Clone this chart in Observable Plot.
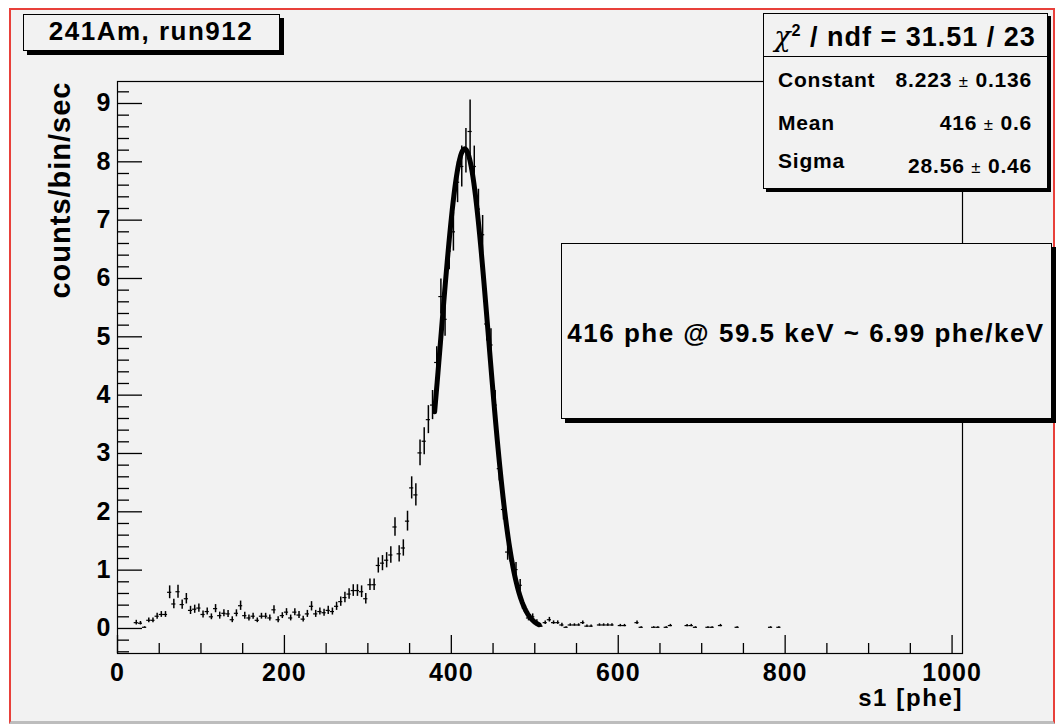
<!DOCTYPE html>
<html><head><meta charset="utf-8">
<script src="https://cdn.jsdelivr.net/npm/d3@7"></script>
<script src="https://cdn.jsdelivr.net/npm/@observablehq/plot@0.6"></script>
<style>
html,body{margin:0;padding:0;background:#fff;width:1057px;height:725px;overflow:hidden;font-family:"Liberation Sans",Arial,Helvetica,sans-serif;font-weight:bold;color:#000;}
#canvas{position:absolute;left:9px;top:8px;width:1042px;height:711px;border:2px solid #e8403a;border-bottom:3px solid #bdbdbd;background:#f2f2f2;}
#chart{position:absolute;left:0;top:0;}
.box{position:absolute;box-sizing:border-box;background:#f2f2f2;border:1px solid #000;box-shadow:4px 4px 0 #000;}
.t{position:absolute;white-space:nowrap;line-height:1;}
.pm{font-weight:normal;font-size:0.8em;}
</style></head><body>
<div id="canvas"></div>
<div id="chart"></div>
<script>
// ---- data ----
const binCenters = [22.5,27.5,32.5,37.5,42.5,47.5,52.5,57.5,62.5,67.5,72.5,77.5,82.5,87.5,92.5,97.5,102.5,107.5,112.5,117.5,122.5,127.5,132.5,137.5,142.5,147.5,152.5,157.5,162.5,167.5,172.5,177.5,182.5,187.5,192.5,197.5,202.5,207.5,212.5,217.5,222.5,227.5,232.5,237.5,242.5,247.5,252.5,257.5,262.5,267.5,272.5,277.5,282.5,287.5,292.5,297.5,302.5,307.5,312.5,317.5,322.5,327.5,332.5,337.5,342.5,347.5,352.5,357.5,362.5,367.5,372.5,377.5,382.5,387.5,392.5,397.5,402.5,407.5,412.5,417.5,422.5,427.5,432.5,437.5,442.5,447.5,452.5,457.5,462.5,467.5,472.5,477.5,482.5,487.5,492.5,497.5,502.5,507.5,512.5,517.5,522.5,527.5,532.5,537.5,542.5,547.5,552.5,557.5,562.5,567.5,577.5,582.5,587.5,592.5,602.5,607.5,622.5,627.5,642.5,647.5,657.5,662.5,682.5,687.5,692.5,707.5,712.5,722.5,742.5,782.5,792.5];
const rates = [0.10,0.09,0.02,0.14,0.14,0.21,0.24,0.24,0.62,0.42,0.63,0.41,0.51,0.31,0.33,0.35,0.24,0.29,0.20,0.34,0.22,0.26,0.25,0.15,0.26,0.39,0.22,0.18,0.21,0.14,0.21,0.21,0.18,0.32,0.15,0.22,0.28,0.18,0.28,0.23,0.16,0.25,0.38,0.25,0.29,0.27,0.31,0.29,0.38,0.46,0.53,0.59,0.65,0.65,0.63,0.51,0.75,0.75,1.08,1.12,1.17,1.26,1.74,1.28,1.38,1.84,2.41,2.29,3.01,3.21,3.58,3.83,4.56,5.69,5.30,6.47,6.80,7.65,7.92,8.19,8.52,7.92,7.19,6.75,5.22,4.86,3.83,2.74,2.04,1.31,1.16,1.01,0.74,0.35,0.18,0.20,0.11,0.04,0.10,0.15,0.10,0.10,0.06,0.02,0.06,0.06,0.06,0.10,0.04,0.04,0.06,0.06,0.06,0.06,0.05,0.05,0.10,0.02,0.02,0.02,0.02,0.05,0.05,0.05,0.02,0.02,0.02,0.05,0.02,0.02,0.02];
const rateErrors = [0.04,0.03,0.01,0.04,0.04,0.05,0.05,0.05,0.11,0.08,0.11,0.08,0.09,0.07,0.07,0.07,0.06,0.06,0.05,0.07,0.06,0.06,0.06,0.05,0.06,0.08,0.06,0.05,0.05,0.04,0.05,0.05,0.05,0.07,0.05,0.05,0.06,0.05,0.06,0.06,0.05,0.06,0.08,0.06,0.06,0.06,0.07,0.06,0.07,0.08,0.09,0.09,0.10,0.10,0.10,0.09,0.10,0.10,0.13,0.13,0.13,0.14,0.16,0.14,0.14,0.17,0.19,0.19,0.22,0.23,0.24,0.25,0.27,0.30,0.29,0.32,0.33,0.35,0.35,0.38,0.54,0.35,0.34,0.33,0.29,0.28,0.25,0.21,0.18,0.14,0.13,0.12,0.10,0.07,0.05,0.05,0.04,0.02,0.03,0.04,0.03,0.03,0.03,0.01,0.02,0.02,0.02,0.03,0.02,0.02,0.02,0.02,0.02,0.02,0.02,0.02,0.03,0.01,0.01,0.01,0.01,0.02,0.02,0.02,0.01,0.01,0.01,0.02,0.01,0.01,0.01];
const binHalfWidth = 2.5;

// Gaussian fit shown in the stats box
const fitNames = ["Constant", "Mean", "Sigma"];
const fitValues = [8.223, 416, 28.56];
const fitErrors = ["0.136", "0.6", "0.46"];
const fitValueLabels = ["8.223", "416", "28.56"];
const fitRange = [380, 505];
const chi2Label = "31.51", ndfLabel = "23";

const xMajorTicks = [0, 200, 400, 600, 800, 1000];
const yMajorTicks = [0, 1, 2, 3, 4, 5, 6, 7, 8, 9];
const xDomain = [0, 1012.5];
const yDomain = [-0.429, 9.377];

const titleText = "241Am, run912";
const noteText = "416 phe @ 59.5 keV ~ 6.99 phe/keV";
const xTitle = "s1 [phe]";
const yTitle = "counts/bin/sec";

// ---- build ----
const points = binCenters.map((x, i) => ({x, y: rates[i], e: rateErrors[i]}));
const fitCurve = d3.range(fitRange[0], fitRange[1] + 0.5, 1).map(x => ({
  x, y: fitValues[0] * Math.exp(-0.5 * ((x - fitValues[1]) / fitValues[2]) ** 2)
}));

const W = 1057, H = 725, mL = 117, mR = 95, mT = 81, mB = 72;
const pxPerX = (W - mL - mR) / (xDomain[1] - xDomain[0]);
const pxPerY = (H - mT - mB) / (yDomain[1] - yDomain[0]);
const xMinor = d3.range(50, 1001, 50).filter(v => v % 200 !== 0);
const yMinor = d3.range(-4, 93, 2).map(v => v / 10).filter(v => !Number.isInteger(v));

const plot = Plot.plot({
  width: W, height: H,
  marginLeft: mL, marginRight: mR, marginTop: mT, marginBottom: mB,
  style: {background: "transparent", fontFamily: '"Liberation Sans", Arial, sans-serif', fontSize: "25px", fontWeight: "bold", color: "black", letterSpacing: "1px"},
  x: {domain: xDomain},
  y: {domain: yDomain},
  marks: [
    Plot.frame({stroke: "black", strokeWidth: 1.2}),
    Plot.ruleX(xMinor, {x: d => d, y1: yDomain[0], y2: yDomain[0] + 10 / pxPerY, stroke: "black", strokeWidth: 1.3}),
    Plot.ruleX(xMajorTicks, {x: d => d, y1: yDomain[0], y2: yDomain[0] + 18 / pxPerY, stroke: "black", strokeWidth: 1.3}),
    Plot.ruleY(yMinor, {y: d => d, x1: xDomain[0], x2: xDomain[0] + 12 / pxPerX, stroke: "black", strokeWidth: 1.3}),
    Plot.ruleY(yMajorTicks, {y: d => d, x1: xDomain[0], x2: xDomain[0] + 25 / pxPerX, stroke: "black", strokeWidth: 1.3}),
    Plot.axisX({ticks: xMajorTicks, tickSize: 0, tickPadding: 10, tickFormat: d3.format("d"), label: null}),
    Plot.axisY({ticks: yMajorTicks, tickSize: 0, tickPadding: 6, tickFormat: d3.format("d"), label: null}),
    Plot.text([yTitle], {frameAnchor: "top-left", text: d => d, rotate: -90, textAnchor: "end", dx: -68, dy: 0, fontSize: 29, fontWeight: "bold"}),
    Plot.ruleY(points, {y: "y", x1: d => d.x - binHalfWidth, x2: d => d.x + binHalfWidth, stroke: "black", strokeWidth: 1.2}),
    Plot.ruleX(points, {x: "x", y1: d => d.y - d.e, y2: d => d.y + d.e, stroke: "black", strokeWidth: 1.5}),
    Plot.line(fitCurve, {x: "x", y: "y", stroke: "black", strokeWidth: 5, strokeLinejoin: "round"})
  ]
});
document.getElementById("chart").appendChild(plot);

// ---- overlays (text boxes, as in the ROOT canvas) ----
function box(left, top, w, h) {
  const d = document.createElement("div");
  d.className = "box";
  Object.assign(d.style, {left: left + "px", top: top + "px", width: w + "px", height: h + "px"});
  document.body.appendChild(d);
  return d;
}
function txt(html, x, baseline, size, anchor, extra) {
  const d = document.createElement("div");
  d.className = "t";
  d.innerHTML = html;
  d.style.fontSize = size + "px";
  d.style.top = (baseline - 0.8465 * size) + "px";
  if (anchor === "end") d.style.right = (W - x) + "px";
  else if (anchor === "middle") { d.style.left = x + "px"; d.style.transform = "translateX(-50%)"; }
  else d.style.left = x + "px";
  if (extra) Object.assign(d.style, extra);
  document.body.appendChild(d);
  return d;
}

// x-axis title
txt(xTitle, 963, 706, 24, "end", {letterSpacing: "1.6px"});

// title box
box(23, 14, 257, 37);
txt(titleText, 151, 40, 26, "middle", {letterSpacing: "1.5px"});

// stats box
box(763, 13, 285, 176).style.boxShadow = "3px 3px 0 #000";
const sep = document.createElement("div");
Object.assign(sep.style, {position: "absolute", left: "763px", top: "56px", width: "285px", height: "0", borderTop: "1px solid #000"});
document.body.appendChild(sep);
txt('<span style="font-weight:normal;font-family:\'DejaVu Serif\',serif;font-style:italic">χ</span><sup style="font-size:0.6em;vertical-align:0.6em">2</sup> / ndf = ' + chi2Label + " / " + ndfLabel, 905, 45, 27, "middle", {letterSpacing: "1px"});
const rowBase = [87, 130, 168];
const valBase = [87, 130, 173];
fitNames.forEach((n, i) => {
  txt(n, 778, rowBase[i], 21, "start", {letterSpacing: "0.8px"});
  txt(fitValueLabels[i] + ' <span class="pm">±</span> ' + fitErrors[i], 1032, valBase[i], 21, "end", {letterSpacing: "0.8px"});
});

// note box
box(561, 243, 491, 176);
txt(noteText, 806, 342, 26, "middle", {letterSpacing: "1.5px"});
</script>
</body></html>
